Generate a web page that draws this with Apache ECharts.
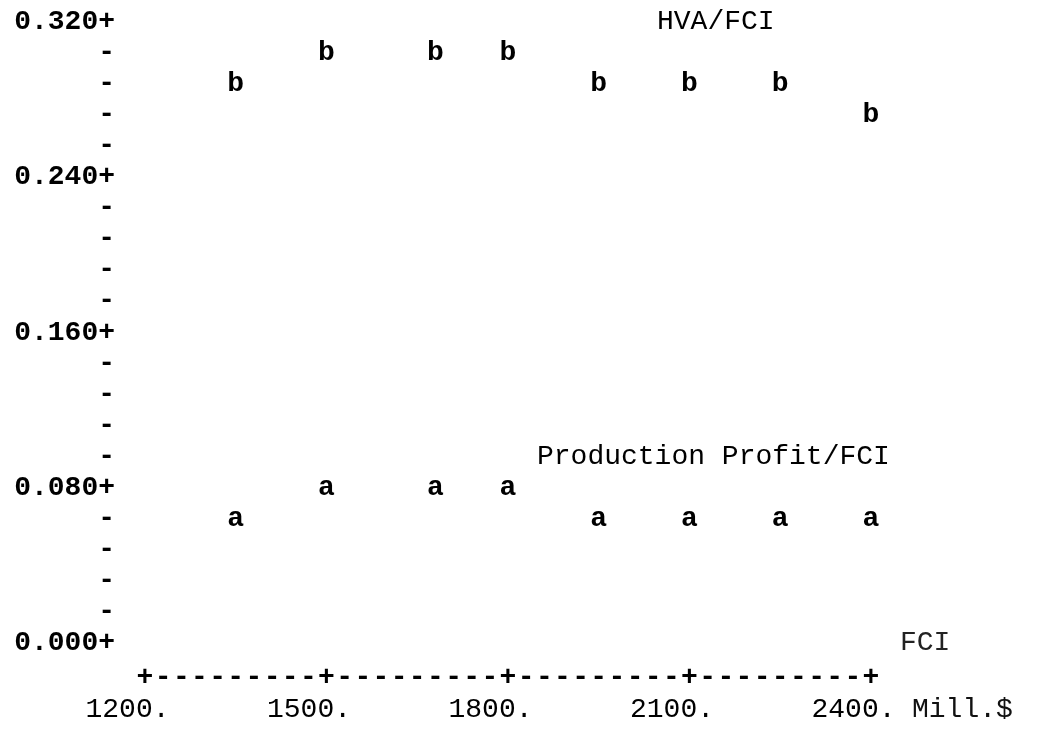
<!DOCTYPE html>
<html>
<head>
<meta charset="utf-8">
<script src="https://cdn.jsdelivr.net/npm/echarts@6/dist/echarts.min.js"></script>
<style>
  html, body { margin: 0; padding: 0; background: #ffffff; }
  #chart { width: 1041px; height: 729px; }
</style>
</head>
<body>
<div id="chart"></div>
<script>
// Fixed capital investment (Mill.$) for each case
const fciValues = [1350, 1500, 1680, 1800, 1950, 2100, 2250, 2400];
// HVA / FCI ratio, plotted with the letter "b"
const hvaRatio = [0.288, 0.304, 0.304, 0.304, 0.288, 0.288, 0.288, 0.272];
// Production profit / FCI ratio, plotted with the letter "a"
const profitRatio = [0.064, 0.080, 0.080, 0.080, 0.064, 0.064, 0.064, 0.064];

// Axis tick labels in line-printer style
const xTickLabels = ['1200.', '1500.', '1800.', '2100.', '2400.'];
const yTickLabels = ['0.000', '0.080', '0.160', '0.240', '0.320'];

const MONO = '"Liberation Mono", "DejaVu Sans Mono", monospace';
const FS = 28;

const X_MIN = 1200, X_MAX = 2400, X_STEP = 30, X_MAJOR = 300;
const Y_MIN = 0, Y_MAX = 0.32, Y_STEP = 0.016, Y_MAJOR_EVERY = 5;

const chart = echarts.init(document.getElementById('chart'), null, { renderer: 'canvas' });

function letterSeries(name, letter, values) {
  return {
    name: name,
    type: 'scatter',
    xAxisIndex: 0,
    yAxisIndex: 0,
    symbolSize: 0,
    silent: true,
    itemStyle: { opacity: 1 },
    data: fciValues.map((x, i) => [x, values[i]]),
    label: {
      show: true,
      position: 'inside',
      formatter: letter,
      fontFamily: MONO,
      fontSize: FS,
      fontWeight: 'bold',
      color: '#000',
      opacity: 1,
      textBorderWidth: 0
    }
  };
}

chart.setOption({
  backgroundColor: '#ffffff',
  animation: false,
  grid: { left: 145, right: 170, top: 22, bottom: 86, containLabel: false },
  xAxis: [
    {
      // "+---------+" scale row
      type: 'value',
      min: X_MIN, max: X_MAX, interval: X_STEP,
      axisLine: { show: false },
      axisTick: { show: false },
      splitLine: { show: false },
      axisLabel: {
        margin: 35,
        verticalAlign: 'middle',
        fontFamily: MONO,
        fontSize: FS,
        fontWeight: 'bold',
        color: '#000',
        formatter: v => (Math.round(v - X_MIN) % X_MAJOR === 0 ? '+' : '-')
      },
      name: 'FCI',
      nameLocation: 'end',
      nameGap: 29,
      nameTextStyle: { fontFamily: MONO, fontSize: FS, color: '#222', align: 'left', verticalAlign: 'middle' }
    },
    {
      // numeric tick labels
      type: 'value',
      position: 'bottom',
      offset: 67,
      min: X_MIN, max: X_MAX, interval: X_MAJOR,
      axisLine: { show: false },
      axisTick: { show: false },
      splitLine: { show: false },
      axisLabel: {
        margin: 0,
        align: 'center',
        verticalAlign: 'middle',
        padding: [0, 35, 0, 0],
        fontFamily: MONO,
        fontSize: FS,
        color: '#000',
        formatter: v => xTickLabels[Math.round((v - X_MIN) / X_MAJOR)]
      },
      name: 'Mill.$',
      nameLocation: 'end',
      nameGap: 41,
      nameTextStyle: { fontFamily: MONO, fontSize: FS, color: '#111', align: 'left', verticalAlign: 'middle' }
    }
  ],
  yAxis: {
    type: 'value',
    min: Y_MIN, max: Y_MAX, interval: Y_STEP,
    axisLine: { show: false },
    axisTick: { show: false },
    splitLine: { show: false },
    axisLabel: {
      margin: 30,
      align: 'right',
      verticalAlign: 'middle',
      fontFamily: MONO,
      fontSize: FS,
      fontWeight: 'bold',
      color: '#000',
      formatter: v => {
        const k = Math.round(v / Y_STEP);
        return k % Y_MAJOR_EVERY === 0 ? yTickLabels[k / Y_MAJOR_EVERY] + '+' : '-';
      }
    }
  },
  series: [
    letterSeries('HVA/FCI', 'b', hvaRatio),
    letterSeries('Production Profit/FCI', 'a', profitRatio)
  ],
  graphic: [
    {
      type: 'text', left: 657, top: 8, silent: true,
      style: { text: 'HVA/FCI', fontFamily: MONO, fontSize: FS, fill: '#000' }
    },
    {
      type: 'text', left: 537, top: 443, silent: true,
      style: { text: 'Production Profit/FCI', fontFamily: MONO, fontSize: FS, fill: '#000' }
    }
  ]
});
</script>
</body>
</html>
